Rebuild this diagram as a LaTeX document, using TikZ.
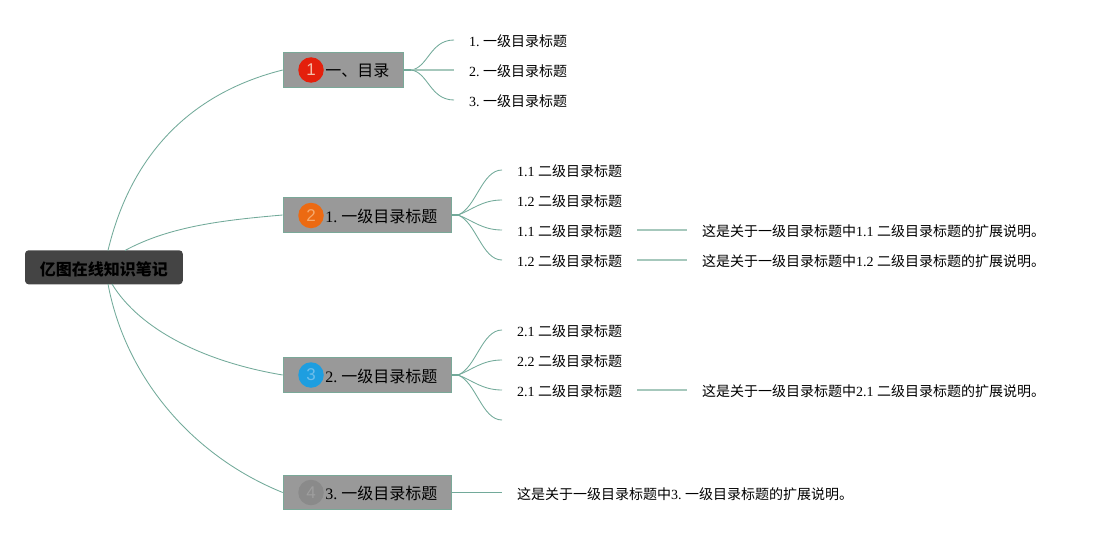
\documentclass[tikz,border=0pt]{standalone}
\usepackage{fontspec}
\setmainfont{Liberation Serif}
\setsansfont{Liberation Sans}
\newfontfamily\cjk{Noto Sans CJK SC}
\newcommand{\cj}[1]{{\cjk #1}}
\newcommand{\lowered}[2]{\smash{\raisebox{-#1pt}{#2}}}
\frenchspacing
\definecolor{edge}{HTML}{72AA9A}
\definecolor{edgepale}{HTML}{A6C8BC}
\definecolor{boxborder}{HTML}{7AA898}
\definecolor{boxfill}{HTML}{999999}
\definecolor{rootfill}{HTML}{444444}
\tikzset{
  rootbox/.style={fill=rootfill,rounded corners=3.5pt,minimum width=157.7pt,minimum height=34pt,inner sep=0pt,font=\fontsize{16}{16}\selectfont\cjk\bfseries,text=black},
  topicbox/.style={draw=boxborder,line width=1.1pt,fill=boxfill,anchor=north west,minimum height=34.3pt,inner ysep=0pt,inner xsep=0pt,align=left,font=\fontsize{16}{16}\selectfont,text=black},
  badge/.style={circle,inner sep=0pt,minimum size=25.5pt,font=\fontsize{17}{17}\selectfont\sffamily},
  leaf/.style={anchor=west,inner xsep=15pt,inner ysep=2pt,font=\fontsize{14}{14}\selectfont,text=black},
  curve/.style={draw=edge,line width=0.85pt},
  stub/.style={draw=edge,line width=2pt},
  straight/.style={draw=edgepale,line width=1.2pt},
}
\begin{document}
\begin{tikzpicture}[x=1pt,y=-1pt]
\useasboundingbox[fill=white] (0,0) rectangle (1105,535);

\node[rootbox] (root) at (103.9,267.3) {\lowered{7.8}{亿图在线知识笔记}};
\coordinate (rt) at (108,250.5);
\coordinate (rt2) at (125,250.5);
\coordinate (rb) at (108,284);
\coordinate (rb2) at (112,284);

% topics
\node[topicbox,minimum width=120.6pt] (t1) at (282.7,52.3) {\lowered{7}{\hspace*{41.8pt}\cj{一、目录}\hspace*{14pt}}};
\node[topicbox,minimum width=168.6pt] (t2) at (282.7,197.3) {\lowered{7}{\hspace*{41.8pt}1. \cj{一级目录标题}\hspace*{14pt}}};
\node[topicbox,minimum width=168.6pt] (t3) at (282.7,357.3) {\lowered{7}{\hspace*{41.8pt}2. \cj{一级目录标题}\hspace*{14pt}}};
\node[topicbox,minimum width=168.6pt] (t4) at (282.7,474.8) {\lowered{7}{\hspace*{41.8pt}3. \cj{一级目录标题}\hspace*{14pt}}};

\node[badge,fill={rgb,255:red,228;green,32;blue,12},text={rgb,255:red,245;green,190;blue,170}] (b1) at (311,70) {1};
\node[badge,fill={rgb,255:red,236;green,106;blue,18},text={rgb,255:red,245;green,170;blue,110}] (b2) at (311,215.5) {2};
\node[badge,fill={rgb,255:red,30;green,158;blue,224},text={rgb,255:red,110;green,190;blue,235}] (b3) at (311,375) {3};
\node[badge,fill={rgb,255:red,138;green,138;blue,138},text={rgb,255:red,158;green,158;blue,158}] (b4) at (311,492.5) {4};

% leaves
\node[leaf] (a1) at (454,41) {1. \cj{一级目录标题}};
\node[leaf] (a2) at (454,71) {2. \cj{一级目录标题}};
\node[leaf] (a3) at (454,101) {3. \cj{一级目录标题}};

\node[leaf] (c1) at (502,171) {1.1 \cj{二级目录标题}};
\node[leaf] (c2) at (502,201) {1.2 \cj{二级目录标题}};
\node[leaf] (c3) at (502,231) {1.1 \cj{二级目录标题}};
\node[leaf] (c4) at (502,261) {1.2 \cj{二级目录标题}};
\node[leaf] (x3) at (687,231) {\cj{这是关于一级目录标题中}1.1 \cj{二级目录标题的扩展说明。}};
\node[leaf] (x4) at (687,261) {\cj{这是关于一级目录标题中}1.2 \cj{二级目录标题的扩展说明。}};

\node[leaf] (d1) at (502,331) {2.1 \cj{二级目录标题}};
\node[leaf] (d2) at (502,361) {2.2 \cj{二级目录标题}};
\node[leaf] (d3) at (502,391) {2.1 \cj{二级目录标题}};
\coordinate (d4) at (502,420);
\node[leaf] (x5) at (687,391) {\cj{这是关于一级目录标题中}2.1 \cj{二级目录标题的扩展说明。}};

\node[leaf] (e1) at (502,494) {\cj{这是关于一级目录标题中}3. \cj{一级目录标题的扩展说明。}};

% root to topics
\draw[curve] (rt) .. controls (132,150) and (195,92) .. (t1.west);
\draw[curve] (rt2) .. controls (170,226) and (225,220) .. (t2.west);
\draw[curve] (rb2) .. controls (140,330) and (205,362) .. (t3.west);
\draw[curve] (rb) .. controls (125,375) and (190,455) .. (t4.west);

% topic 1
\coordinate (s1) at (411,70);
\draw[stub] (t1.east) -- (s1);
\draw[curve] (s1) .. controls (428,68) and (430,40) .. (a1.west |- 0,40);
\draw[straight] (s1) -- (a2.west |- 0,70);
\draw[curve] (s1) .. controls (428,72) and (430,100) .. (a3.west |- 0,100);

% topic 2
\coordinate (s2) at (458,215);
\draw[stub] (t2.east) -- (s2);
\draw[curve] (s2) .. controls (476,208) and (482,170) .. (c1.west |- 0,170);
\draw[curve] (s2) .. controls (472,210) and (482,200) .. (c2.west |- 0,200);
\draw[curve] (s2) .. controls (472,220) and (482,230) .. (c3.west |- 0,230);
\draw[curve] (s2) .. controls (476,222) and (482,260) .. (c4.west |- 0,260);
\draw[straight] (c3.east |- 0,230) -- (x3.west |- 0,230);
\draw[straight] (c4.east |- 0,260) -- (x4.west |- 0,260);

% topic 3
\coordinate (s3) at (458,375);
\draw[stub] (t3.east) -- (s3);
\draw[curve] (s3) .. controls (476,368) and (482,330) .. (d1.west |- 0,330);
\draw[curve] (s3) .. controls (472,370) and (482,360) .. (d2.west |- 0,360);
\draw[curve] (s3) .. controls (472,380) and (482,390) .. (d3.west |- 0,390);
\draw[curve] (s3) .. controls (476,382) and (482,420) .. (d4);
\draw[straight] (d3.east |- 0,390) -- (x5.west |- 0,390);

% topic 4
\draw[curve] (t4.east) -- (e1.west |- t4.east);
\end{tikzpicture}
\end{document}
